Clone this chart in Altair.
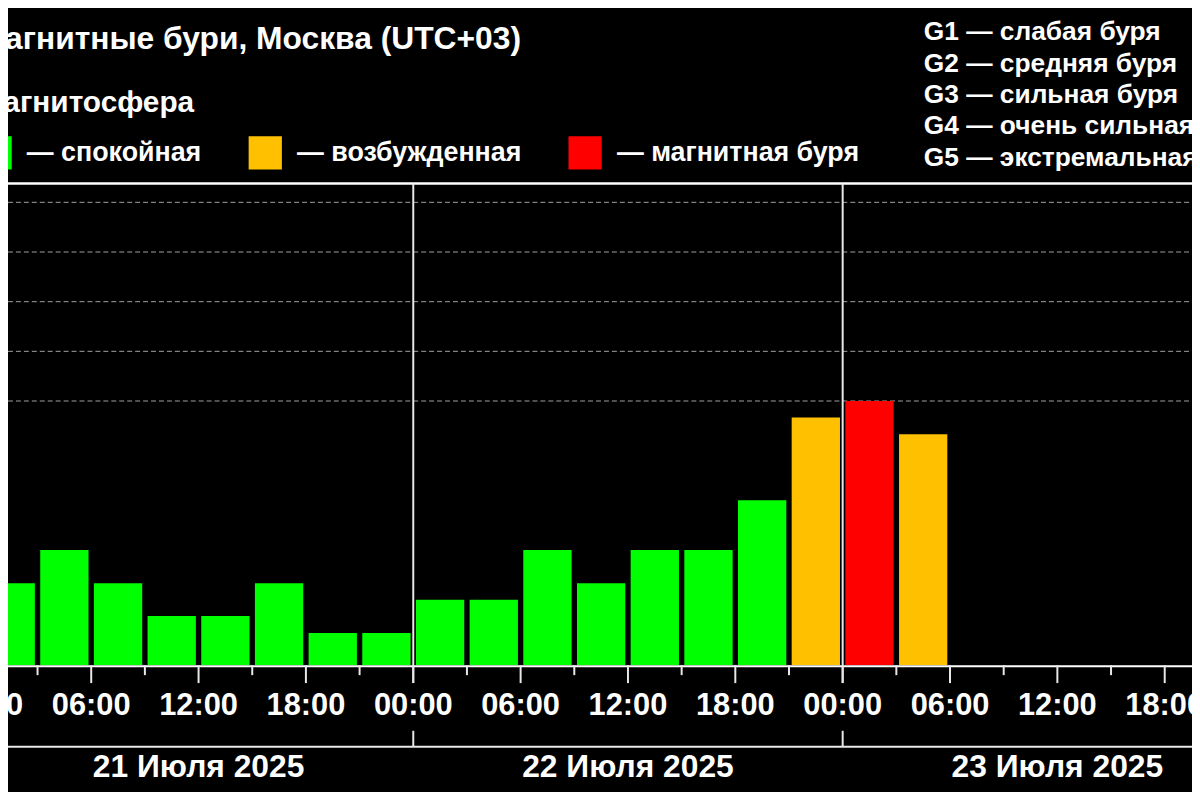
import altair as alt
import pandas as pd

# ---------------- data ----------------
bar_start_hours = [0, 3, 6, 9, 12, 15, 18, 21,
                   24, 27, 30, 33, 36, 39, 42, 45,
                   48, 51]
kp_values = [1.33, 2.0, 1.33, 0.67, 0.67, 1.33, 0.33, 0.33,
             1.0, 1.0, 2.0, 1.33, 2.0, 2.0, 3.0, 4.67,
             5.0, 4.33]
status = ["спокойная", "спокойная", "спокойная", "спокойная", "спокойная",
          "спокойная", "спокойная", "спокойная", "спокойная", "спокойная",
          "спокойная", "спокойная", "спокойная", "спокойная", "спокойная",
          "возбужденная", "магнитная буря", "возбужденная"]

status_order = ["спокойная", "возбужденная", "магнитная буря"]
status_colors = ["#00FF00", "#FFC000", "#FF0000"]

major_tick_hours = [0, 6, 12, 18, 24, 30, 36, 42, 48, 54, 60, 66]
major_tick_labels = ["00:00", "06:00", "12:00", "18:00",
                     "00:00", "06:00", "12:00", "18:00",
                     "00:00", "06:00", "12:00", "18:00"]
minor_tick_hours = [3, 9, 15, 21, 27, 33, 39, 45, 51, 57, 63, 69]

day_bound_hours = [24, 48]
day_center_hours = [12, 36, 60]
day_labels = ["21 Июля 2025", "22 Июля 2025", "23 Июля 2025"]

grid_kp = [5, 6, 7, 8, 9]

title_text = "Магнитные бури, Москва (UTC+03)"
subtitle_text = "Магнитосфера"
g_scale_lines = ["G1 — слабая буря", "G2 — средняя буря", "G3 — сильная буря",
                 "G4 — очень сильная", "G5 — экстремальная"]

# ---------------- layout ----------------
W = 1192
H = 485
FONT = "Liberation Sans"
WHITE = "#ffffff"
LINE = "#e8e8e8"

bars_df = pd.DataFrame({"start": bar_start_hours, "kp": kp_values, "status": status})
major_df = pd.DataFrame({"h": major_tick_hours, "label": major_tick_labels})
minor_df = pd.DataFrame({"h": minor_tick_hours})
bounds_df = pd.DataFrame({"h": day_bound_hours})
days_df = pd.DataFrame({"h": day_center_hours, "label": day_labels})
grid_df = pd.DataFrame({"kp": grid_kp})
one_df = pd.DataFrame({"k": [0]})

xscale = alt.Scale(domain=[1.349, 67.525], nice=False, zero=False)
yscale = alt.Scale(domain=[-0.32, 9.38], nice=False, zero=False)

grid = alt.Chart(grid_df).mark_rule(color="#a0a0a0", strokeWidth=1, strokeDash=[5, 3]).encode(
    y=alt.Y("kp:Q", scale=yscale, axis=None),
    x=alt.value(0), x2=alt.value(W),
)

bars = alt.Chart(bars_df).transform_calculate(
    x0="datum.start + 0.15", x1="datum.start + 2.85"
).mark_bar(clip=True).encode(
    x=alt.X("x0:Q", scale=xscale, axis=None),
    x2="x1:Q",
    y=alt.Y("kp:Q", scale=yscale, axis=None),
    y2=alt.value(H),
    color=alt.Color(
        "status:N",
        scale=alt.Scale(domain=status_order, range=status_colors),
        legend=alt.Legend(
            orient="none", legendX=-30, legendY=-48, direction="horizontal",
            title=None, symbolType="square", symbolSize=1120, symbolStrokeWidth=0,
            symbolOpacity=1, labelFont=FONT, labelFontWeight="bold", labelFontSize=27,
            labelColor=WHITE, labelOffset=15, columnPadding=47, labelLimit=500,
            labelExpr="'— ' + datum.label", padding=0,
        ),
    ),
)

top_line = alt.Chart(one_df).mark_rule(color=WHITE, strokeWidth=2.5).encode(
    x=alt.value(0), x2=alt.value(W), y=alt.value(0))
base_line = alt.Chart(one_df).mark_rule(color=WHITE, strokeWidth=2).encode(
    x=alt.value(0), x2=alt.value(W), y=alt.value(H + 1))
bottom_line = alt.Chart(one_df).mark_rule(color=LINE, strokeWidth=2).encode(
    x=alt.value(0), x2=alt.value(W), y=alt.value(567))

day_lines = alt.Chart(bounds_df).mark_rule(color=LINE, strokeWidth=2).encode(
    x=alt.X("h:Q", scale=xscale, axis=None), y=alt.value(0), y2=alt.value(503))
day_lines_low = alt.Chart(bounds_df).mark_rule(color=LINE, strokeWidth=2).encode(
    x=alt.X("h:Q", scale=xscale, axis=None), y=alt.value(551), y2=alt.value(567))

major_ticks = alt.Chart(major_df).mark_rule(color=LINE, strokeWidth=2).encode(
    x=alt.X("h:Q", scale=xscale, axis=None), y=alt.value(H), y2=alt.value(503))
minor_ticks = alt.Chart(minor_df).mark_rule(color=LINE, strokeWidth=2).encode(
    x=alt.X("h:Q", scale=xscale, axis=None), y=alt.value(H), y2=alt.value(495))

tick_labels = alt.Chart(major_df).mark_text(
    font=FONT, fontWeight="bold", fontSize=31, color=WHITE, baseline="alphabetic", align="center"
).encode(x=alt.X("h:Q", scale=xscale, axis=None), y=alt.value(535), text="label:N")

day_text = alt.Chart(days_df).mark_text(
    font=FONT, fontWeight="bold", fontSize=32, color=WHITE, baseline="alphabetic", align="center"
).encode(x=alt.X("h:Q", scale=xscale, axis=None), y=alt.value(598), text="label:N")

title = alt.Chart(one_df).mark_text(
    font=FONT, fontWeight="bold", fontSize=32, color=WHITE, baseline="alphabetic", align="left"
).encode(x=alt.value(-30), y=alt.value(-135), text=alt.value(title_text))

subtitle = alt.Chart(one_df).mark_text(
    font=FONT, fontWeight="bold", fontSize=30, color=WHITE, baseline="alphabetic", align="left"
).encode(x=alt.value(-30), y=alt.value(-72), text=alt.value(subtitle_text))

g_text = alt.Chart(one_df).mark_text(
    font=FONT, fontWeight="bold", fontSize=26.5, color=WHITE, baseline="alphabetic", align="left",
    lineHeight=31.5
).encode(x=alt.value(922), y=alt.value(-144), text=alt.value(g_scale_lines))

chart = alt.layer(
    grid, bars, top_line, base_line, bottom_line, day_lines, day_lines_low,
    major_ticks, minor_ticks, tick_labels, day_text, title, subtitle, g_text
).properties(
    width=W, height=H,
    padding={"left": 0, "top": 174, "right": 0, "bottom": 125},
    autosize=alt.AutoSizeParams(type="none"),
    background="#000000",
).configure_view(stroke=None)

chart.save("out.html", embed_options={"renderer": "svg", "actions": False})
